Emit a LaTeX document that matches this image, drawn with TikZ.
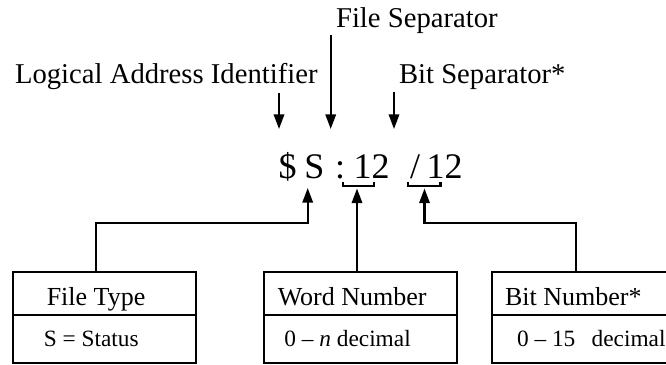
\documentclass[tikz,border=0pt]{standalone}
\usepackage{fontspec}
\setmainfont{Liberation Serif}
\usetikzlibrary{arrows.meta}
\begin{document}
\begin{tikzpicture}[x=0.75pt, y=-0.75pt,
  line width=1.6pt,
  arr/.style={-{Triangle[length=11pt,width=7.8pt]}},
  lbl/.style={inner sep=0pt, anchor=base west, font=\fontsize{21.5}{24}\selectfont},
  addr/.style={inner sep=0pt, anchor=base, font=\fontsize{27}{30}\selectfont},
  boxtxt/.style={inner sep=0pt, anchor=base west, font=\fontsize{19.5}{22}\selectfont},
  valtxt/.style={inner sep=0pt, anchor=base west, font=\fontsize{17.5}{20}\selectfont},
  hdr/.style={draw, anchor=north west, minimum height=32.5pt, inner sep=0pt, outer sep=0pt},
  val/.style={draw, anchor=north west, minimum height=35.8pt, inner sep=0pt, outer sep=0pt}]
\clip (0,0) rectangle (666,364);

% labels above the address
\node[lbl] (lai) at (14,83) {Logical Address Identifier};
\node[lbl] (fsep) at (335,27) {File Separator};
\node[lbl] (bsep) at (398,83) {Bit Separator*};

% the address, piece by piece
\node[addr] (dollar) at (287.5,178) {\$};
\node[addr] (ftype)  at (314.5,178) {S};
\node[addr] (colon)  at (340,178)   {:};
\node[addr] (word)   at (371.5,178) {12};
\node[addr] (slash)  at (415,178)   {/};
\node[addr] (bit)    at (444.5,178) {12};

% arrows from the labels down to the address
\coordinate (laiA) at (279,93);   \coordinate (laiB) at (279,129);
\coordinate (fsA)  at (330.7,35); \coordinate (fsB)  at (330.7,129);
\coordinate (bsA)  at (394,92);   \coordinate (bsB)  at (394,129);
\draw[arr] (laiA) -- (laiB);
\draw[arr] (fsA) -- (fsB);
\draw[arr] (bsA) -- (bsB);

% brackets under the word and bit numbers
\draw (343.3,181.7) -- (343.3,185.7) -- (374,185.7) -- (374,181.7);
\draw (408.3,181.7) -- (408.3,185.7) -- (440.5,185.7) -- (440.5,181.7);

% description boxes
\node[hdr, minimum width=137.5pt] (ftH) at (12.7,271.7) {};
\node[val, minimum width=137.5pt] (ftV) at (ftH.south west) {};
\node[hdr, minimum width=144.3pt] (wnH) at (264.3,271.7) {};
\node[val, minimum width=144.3pt] (wnV) at (wnH.south west) {};
\node[hdr, minimum width=144.3pt] (bnH) at (492.3,271.7) {};
\node[val, minimum width=144.3pt] (bnV) at (bnH.south west) {};

\node[boxtxt] (ftHt) at (45.7,305) {File Type};
\node[valtxt] (ftVt) at (42.7,346) {S = Status};
\node[boxtxt] (wnHt) at (276.7,305) {Word Number};
\node[valtxt] (wnVt) at (283.3,346) {0 – \textit{n} decimal};
\node[boxtxt] (bnHt) at (504,305) {Bit Number*};
\node[valtxt] (bnVt) at (516,346) {0 – 15\hspace{0.7em}decimal};

% connectors from the boxes up to the address
\coordinate (ftTop) at (96,271.7);
\coordinate (wnTop) at (357,271.7);
\coordinate (bnTop) at (575.7,271.7);
\coordinate (sTip)  at (307.7,188);
\coordinate (wTip)  at (357,188.5);
\coordinate (bTip)  at (424.5,188.5);
\draw[arr] (ftTop) |- (sTip |- 0,222.7) -- (sTip);
\draw[arr] (wnTop) -- (wTip);
\draw[arr] (bnTop) |- (bTip |- 0,222.7) -- (bTip);
\end{tikzpicture}
\end{document}
